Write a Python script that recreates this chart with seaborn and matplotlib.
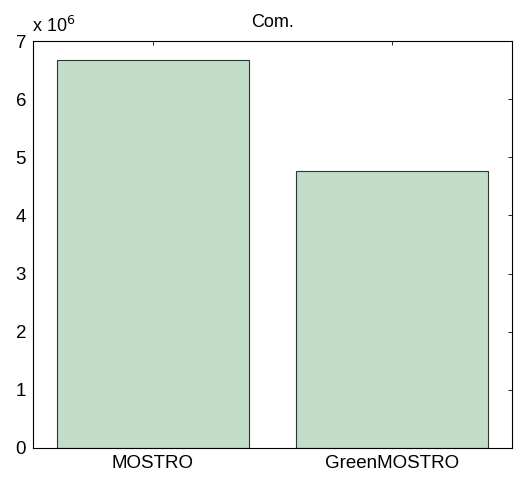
import pandas as pd
import matplotlib
matplotlib.use("Agg")
import matplotlib.pyplot as plt
import seaborn as sns
import numpy as np

# values
methods = ['MOSTRO', 'GreenMOSTRO']
values = [6.68e6, 4.76e6]
title = 'Com.'

sns.set_style('white')
plt.rcParams['font.family'] = ['Liberation Sans', 'DejaVu Sans']
plt.rcParams['text.color'] = 'black'
plt.rcParams['xtick.color'] = 'black'
plt.rcParams['ytick.color'] = 'black'

df = pd.DataFrame({'method': methods, 'value': values})

fig = plt.figure(figsize=(5.25, 4.79), dpi=100)
ax = fig.add_axes([33 / 525, 31 / 479, 479 / 525, 407 / 479])

sns.barplot(data=df, x='method', y='value', order=methods, color='#c2dec8',
            saturation=1, width=0.8, edgecolor='#333333', linewidth=0.8, ax=ax)

ax.set_xlim(-0.5, 1.5)
ax.set_ylim(0, 7e6)
yt = np.arange(0, 8) * 1e6
ax.set_yticks(yt)
ax.set_yticklabels([f"{int(v / 1e6)}" for v in yt])
ax.set_xlabel('')
ax.set_ylabel('')
ax.set_title(title, fontsize=13, pad=10)

ax.tick_params(direction='in', length=3, width=0.6, top=True, right=True,
               labelsize=13.5, pad=5)
for s in ax.spines.values():
    s.set_color('black')
    s.set_linewidth(0.8)

ax.text(-0.003, 1.012, r'x 10$^{6}$', transform=ax.transAxes, fontsize=13,
        ha='left', va='bottom')

fig.savefig('out.png', dpi=100)
